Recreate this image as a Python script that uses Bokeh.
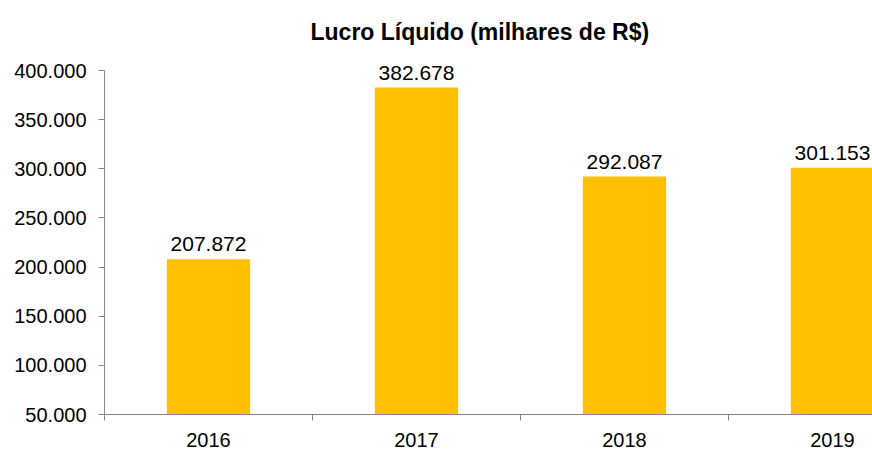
from bokeh.plotting import figure
from bokeh.models import ColumnDataSource, LinearAxis, FixedTicker, Range1d, Title, LabelSet
from bokeh.core.properties import value
from bokeh.embed import file_html
from bokeh.resources import INLINE

years = ["2016", "2017", "2018", "2019"]
lucro = [207872, 382678, 292087, 301153]
y_ticks = [50000, 100000, 150000, 200000, 250000, 300000, 350000, 400000]
y_tick_labels = ["50.000", "100.000", "150.000", "200.000", "250.000", "300.000", "350.000", "400.000"]
bar_labels = ["207.872", "382.678", "292.087", "301.153"]
title_text = "Lucro Líquido (milhares de R$)"

xpos = [i + 1 for i in range(len(years))]
src = ColumnDataSource(dict(x=xpos, top=lucro, lab=bar_labels))

FONT = "Liberation Sans"
AXIS_COLOR = "#868686"

# layout: axis region 344px tall for the tick span, plus headroom above for labels
px_per_unit = 344 / (y_ticks[-1] - y_ticks[0])
headroom = 11
y_end = y_ticks[-1] + headroom / px_per_unit

p = figure(frame_width=768, frame_height=344 + headroom, output_backend="svg", toolbar_location=None,
           x_range=Range1d(0.5, 0.5 + 768 / 208), y_range=Range1d(y_ticks[0], y_end),
           x_axis_type=None, min_border_left=104, min_border_right=0, min_border_top=70 - headroom,
           min_border_bottom=36, background_fill_color="white", border_fill_color="white")
p.outline_line_color = None
p.grid.visible = False

t = Title(text=title_text, align="left", text_font=FONT, text_font_size="23px",
          text_font_style="bold", text_color="#000000", standoff=30, offset=206)
p.add_layout(t, "above")

p.vbar(x="x", top="top", bottom=0, width=0.4, source=src, fill_color="#FFC000", line_color=None)
labels = LabelSet(x="x", y="top", text="lab", source=src, text_align="center",
                  text_baseline="bottom", y_offset=8, text_font=value(FONT),
                  text_font_size=value("21px"), text_color="#000000")
p.add_layout(labels)

ya = p.yaxis[0]
ya.ticker = FixedTicker(ticks=y_ticks)
ya.bounds = (y_ticks[0], y_ticks[-1])
ya.major_label_overrides = {t_: l for t_, l in zip(y_ticks, y_tick_labels)}
ya.major_label_text_font = FONT
ya.major_label_text_font_size = "20px"
ya.major_label_text_color = "#000000"
ya.axis_line_color = AXIS_COLOR
ya.major_tick_line_color = AXIS_COLOR
ya.major_tick_out = 6
ya.major_tick_in = 0
ya.minor_tick_line_color = None
ya.major_label_standoff = 12

bounds = [x - 0.5 for x in xpos]
xa = LinearAxis(ticker=FixedTicker(ticks=xpos, minor_ticks=bounds),
                major_label_overrides={x: y for x, y in zip(xpos, years)},
                axis_line_color=AXIS_COLOR, major_tick_line_color=None,
                minor_tick_line_color=AXIS_COLOR, minor_tick_out=6, minor_tick_in=0,
                major_tick_out=0, major_tick_in=0,
                major_label_text_font=FONT, major_label_text_font_size="20px",
                major_label_text_color="#000000", major_label_standoff=12)
p.add_layout(xa, "below")

open("out.html", "w").write(file_html(p, INLINE))
